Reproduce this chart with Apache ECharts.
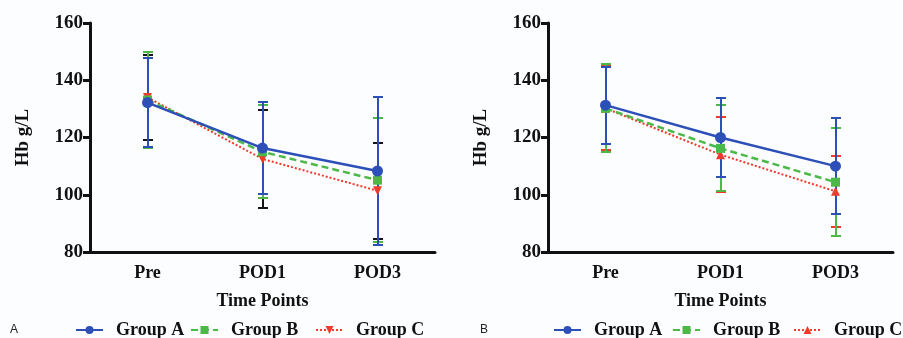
<!DOCTYPE html>
<html>
<head>
<meta charset="utf-8">
<script src="https://cdn.jsdelivr.net/npm/echarts@6/dist/echarts.min.js"></script>
<style>
html,body{margin:0;padding:0;background:#fcfdff;}
#c{width:903px;height:338px;}
</style>
</head>
<body>
<div id="c"></div>
<script>
const categories = ['Pre', 'POD1', 'POD3'];
const yTicks = [80, 100, 120, 140, 160];
const groupNames = ['Group A', 'Group B', 'Group C'];

// Panel A
const aMeanA = [132.2, 116.3, 108.3];
const aSdA   = [15.6, 16.2, 25.7];
const aMeanB = [133.1, 115.0, 105.1];
const aSdB   = [16.6, 16.3, 21.6];
const aMeanC = [134.0, 112.5, 101.4];
const aSdC   = [14.9, 17.0, 16.7];

// Panel B
const bMeanA = [131.3, 120.0, 110.0];
const bSdA   = [13.5, 13.8, 16.8];
const bMeanB = [130.2, 116.2, 104.4];
const bSdB   = [15.4, 15.0, 18.8];
const bMeanC = [130.2, 114.0, 101.2];
const bSdC   = [14.7, 13.1, 12.4];

const BLUE = '#2c4fb8', GREEN = '#4cb848', RED = '#ee3b2c', BLACK = '#151515';
const FONT = '"Liberation Serif", "Times New Roman", serif';

function errData(mean, sd) {
  return mean.map((m, i) => [i, m - sd[i], m + sd[i]]);
}
function errSeries(idx, mean, sd, color) {
  return {
    type: 'custom', name: 'err' + idx + color, xAxisIndex: idx, yAxisIndex: idx,
    data: errData(mean, sd), silent: true,
    itemStyle: { color: color, opacity: 1 },
    renderItem: function (params, api) {
      const x = api.value(0);
      const lo = api.coord([x, api.value(1)]);
      const hi = api.coord([x, api.value(2)]);
      const cx = Math.round(lo[0]);
      const yl = Math.round(lo[1]), yh = Math.round(hi[1]);
      const w = 5;
      const st = { stroke: color, lineWidth: 2, opacity: 1, fill: null };
      return { type: 'group', children: [
        { type: 'line', shape: { x1: cx, y1: yl, x2: cx, y2: yh }, style: st },
        { type: 'line', shape: { x1: cx - w, y1: yl, x2: cx + w, y2: yl }, style: st },
        { type: 'line', shape: { x1: cx - w, y1: yh, x2: cx + w, y2: yh }, style: st }
      ]};
    }
  };
}
function lineSeries(idx, name, mean, color, symbol, size, rot, type, width) {
  return {
    type: 'line', name: idx + '|' + name, xAxisIndex: idx, yAxisIndex: idx,
    data: mean, symbol: symbol, symbolSize: size, symbolRotate: rot,
    itemStyle: { color: color },
    lineStyle: { color: color, width: width, type: type },
    emphasis: { disabled: true }
  };
}
function xAxis(idx) {
  return {
    type: 'category', gridIndex: idx, data: categories, boundaryGap: true,
    name: 'Time Points', nameLocation: 'middle', nameGap: 40,
    nameTextStyle: { fontFamily: FONT, fontWeight: 'bold', fontSize: 18, color: '#111' },
    axisLine: { lineStyle: { color: '#111', width: 3 } },
    axisTick: { alignWithLabel: true, length: 7, lineStyle: { width: 3, color: '#111' } },
    axisLabel: { fontFamily: FONT, fontWeight: 'bold', fontSize: 18, color: '#111', margin: 12 },
    splitLine: { show: false }
  };
}
function yAxis(idx) {
  return {
    type: 'value', gridIndex: idx, min: yTicks[0], max: yTicks[yTicks.length - 1], interval: 20,
    name: 'Hb g/L', nameLocation: 'middle', nameGap: 57, nameRotate: 90,
    nameTextStyle: { fontFamily: FONT, fontWeight: 'bold', fontSize: 19, color: '#111' },
    axisLine: { show: true, lineStyle: { color: '#111', width: 3 } },
    axisTick: { show: true, length: 7, lineStyle: { width: 3, color: '#111' } },
    axisLabel: { fontFamily: FONT, fontWeight: 'bold', fontSize: 19, color: '#111', margin: 7 },
    splitLine: { show: false }
  };
}
function legend(idx, name, left) {
  return {
    data: [idx + '|' + name], left: left, top: 321, padding: 0, itemWidth: 27, itemHeight: 10,
    formatter: n => n.split('|')[1], selectedMode: false,
    textStyle: { fontFamily: FONT, fontWeight: 'bold', fontSize: 18, color: '#111', padding: [0, 0, 0, 8] }
  };
}

const chart = echarts.init(document.getElementById('c'));
chart.setOption({
  backgroundColor: '#fcfdff',
  animation: false,
  grid: [
    { left: 90, top: 23, width: 345, height: 229 },
    { left: 548, top: 23, width: 345, height: 229 }
  ],
  xAxis: [xAxis(0), xAxis(1)],
  yAxis: [yAxis(0), yAxis(1)],
  legend: [
    legend(0, groupNames[0], 75), legend(0, groupNames[1], 190), legend(0, groupNames[2], 315),
    legend(1, groupNames[0], 553), legend(1, groupNames[1], 672), legend(1, groupNames[2], 793)
  ],
  graphic: [
    { type: 'text', left: 10, top: 324, style: { text: 'A', fontFamily: 'Arial, "Liberation Sans", sans-serif', fontSize: 12, fill: '#222' } },
    { type: 'text', left: 480, top: 324, style: { text: 'B', fontFamily: 'Arial, "Liberation Sans", sans-serif', fontSize: 12, fill: '#222' } }
  ],
  series: [
    errSeries(0, aMeanC, aSdC, BLACK),
    lineSeries(0, groupNames[2], aMeanC, RED, 'triangle', 9, 180, [2, 2], 2),
    errSeries(0, aMeanB, aSdB, GREEN),
    lineSeries(0, groupNames[1], aMeanB, GREEN, 'rect', 9, 0, [7, 4], 2.5),
    errSeries(0, aMeanA, aSdA, BLUE),
    lineSeries(0, groupNames[0], aMeanA, BLUE, 'circle', 11, 0, 'solid', 2.5),

    errSeries(1, bMeanC, bSdC, RED),
    lineSeries(1, groupNames[2], bMeanC, RED, 'triangle', 9, 0, [2, 2], 2),
    errSeries(1, bMeanB, bSdB, GREEN),
    lineSeries(1, groupNames[1], bMeanB, GREEN, 'rect', 9, 0, [7, 4], 2.5),
    errSeries(1, bMeanA, bSdA, BLUE),
    lineSeries(1, groupNames[0], bMeanA, BLUE, 'circle', 11, 0, 'solid', 2.5)
  ]
});
</script>
</body>
</html>
